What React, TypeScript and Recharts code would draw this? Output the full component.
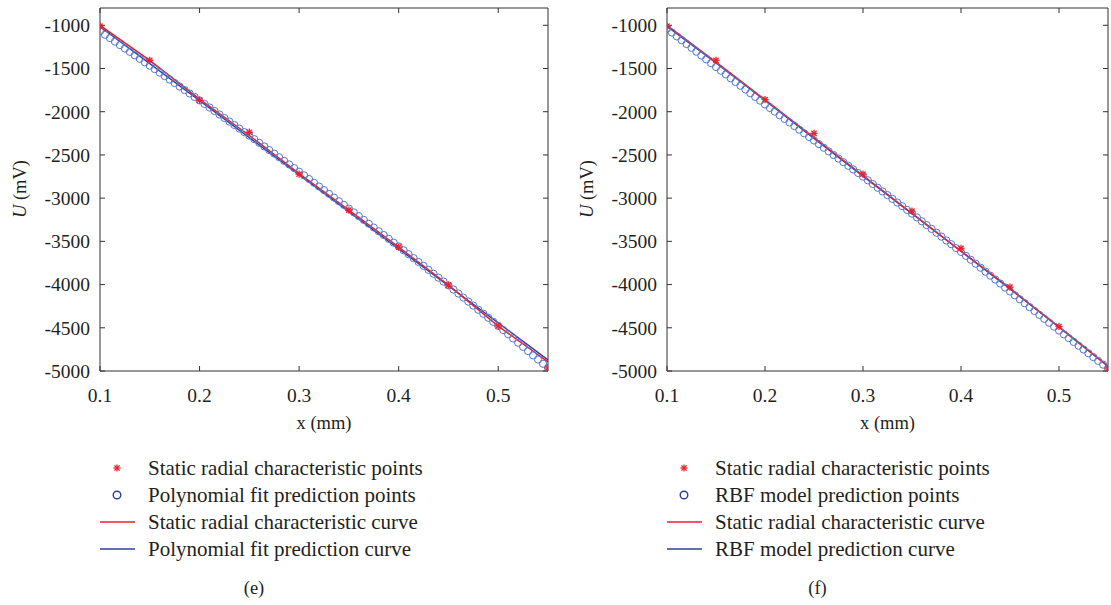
import { ComposedChart, Line, Scatter, XAxis, YAxis } from 'recharts';

const FONT = '"Liberation Serif", "DejaVu Serif", serif';
const INK = '#231f20';
const RED = '#e8202a';
const BLUE = '#2b3f9e';
const CIRCLE = '#5677d0';

// sampling grid of the prediction points (mm)
const predX = [
  0.1, 0.105, 0.11, 0.115, 0.12, 0.125, 0.13, 0.135, 0.14, 0.145,
  0.15, 0.155, 0.16, 0.165, 0.17, 0.175, 0.18, 0.185, 0.19, 0.195,
  0.2, 0.205, 0.21, 0.215, 0.22, 0.225, 0.23, 0.235, 0.24, 0.245,
  0.25, 0.255, 0.26, 0.265, 0.27, 0.275, 0.28, 0.285, 0.29, 0.295,
  0.3, 0.305, 0.31, 0.315, 0.32, 0.325, 0.33, 0.335, 0.34, 0.345,
  0.35, 0.355, 0.36, 0.365, 0.37, 0.375, 0.38, 0.385, 0.39, 0.395,
  0.4, 0.405, 0.41, 0.415, 0.42, 0.425, 0.43, 0.435, 0.44, 0.445,
  0.45, 0.455, 0.46, 0.465, 0.47, 0.475, 0.48, 0.485, 0.49, 0.495,
  0.5, 0.505, 0.51, 0.515, 0.52, 0.525, 0.53, 0.535, 0.54, 0.545,
  0.55,
];

// (e) polynomial fit prediction points (mV)
const polyPred = [
  -1070, -1110, -1149, -1189, -1229, -1269, -1308, -1348, -1388, -1428,
  -1467, -1507, -1548, -1588, -1628, -1668, -1709, -1749, -1789, -1829,
  -1869, -1910, -1951, -1992, -2032, -2073, -2114, -2154, -2195, -2236,
  -2277, -2318, -2360, -2402, -2444, -2485, -2527, -2569, -2610, -2652,
  -2694, -2737, -2779, -2822, -2865, -2907, -2950, -2993, -3036, -3078,
  -3121, -3165, -3208, -3252, -3296, -3340, -3383, -3427, -3471, -3515,
  -3558, -3603, -3649, -3694, -3739, -3784, -3830, -3875, -3920, -3965,
  -4010, -4057, -4104, -4151, -4197, -4244, -4291, -4337, -4384, -4431,
  -4478, -4526, -4575, -4624, -4673, -4721, -4770, -4819, -4867, -4916,
  -4965,
];

// (f) RBF model prediction points (mV)
const rbfPred = [
  -1040, -1084, -1129, -1173, -1217, -1261, -1306, -1350, -1394, -1439,
  -1483, -1526, -1569, -1613, -1656, -1699, -1742, -1786, -1829, -1872,
  -1916, -1957, -1999, -2041, -2083, -2124, -2166, -2208, -2250, -2292,
  -2333, -2375, -2417, -2459, -2501, -2542, -2584, -2626, -2668, -2709,
  -2751, -2794, -2837, -2880, -2922, -2965, -3008, -3051, -3093, -3136,
  -3179, -3223, -3268, -3312, -3356, -3400, -3445, -3489, -3533, -3578,
  -3622, -3668, -3713, -3759, -3805, -3851, -3897, -3942, -3988, -4034,
  -4080, -4125, -4170, -4215, -4261, -4306, -4351, -4397, -4442, -4487,
  -4532, -4576, -4620, -4664, -4708, -4751, -4795, -4839, -4883, -4926,
  -4970,
];

// measured static radial characteristic points
const staticX = [0.1, 0.15, 0.2, 0.25, 0.3, 0.35, 0.4, 0.45, 0.5, 0.55];
const staticE = [-1010, -1405, -1867, -2237, -2722, -3139, -3566, -4006, -4480, -4965];
const staticF = [-1010, -1405, -1860, -2250, -2722, -3150, -3580, -4030, -4485, -4975];

// static characteristic curves, sampled at staticX
const staticCurveE = [-1000, -1405, -1855, -2275, -2715, -3139, -3566, -4006, -4480, -4895];
const staticCurveF = [-1000, -1425, -1860, -2300, -2738, -3175, -3612, -4045, -4490, -4945];

// prediction curves
const polyCurveX = [0.1, 0.55];
const polyCurve = [-1015, -4872];
const rbfCurve = [-1012, -1435, -1870, -2310, -2745, -3180, -3615, -4050, -4492, -4945];

const xTicks = [0.1, 0.2, 0.3, 0.4, 0.5];
const yTicks = [-1000, -1500, -2000, -2500, -3000, -3500, -4000, -4500, -5000];

const zip = (xs: number[], ys: number[]) => xs.map((x, i) => ({ x, y: ys[i] }));

const Asterisk = (p: any) => {
  const { cx, cy } = p;
  const r = 3.6;
  const d = 2.6;
  return (
    <g stroke={RED} strokeWidth={1.3}>
      <line x1={cx - r} y1={cy} x2={cx + r} y2={cy} />
      <line x1={cx} y1={cy - r} x2={cx} y2={cy + r} />
      <line x1={cx - d} y1={cy - d} x2={cx + d} y2={cy + d} />
      <line x1={cx - d} y1={cy + d} x2={cx + d} y2={cy - d} />
    </g>
  );
};

const Ring = (p: any) => (
  <circle cx={p.cx} cy={p.cy} r={3.6} fill="none" stroke={CIRCLE} strokeWidth={1} />
);

const NoLabel = () => <g />;

type PanelProps = {
  left: number;
  width: number;
  yAxisWidth: number;
  rightMargin: number;
  pred: number[];
  points: number[];
  staticCurve: number[];
  fitX: number[];
  fitCurve: number[];
  labels: string[];
  caption: string;
};

const tickStyle = { fontFamily: FONT, fontSize: 19.5, fill: INK };
const titleStyle = { fontFamily: FONT, fontSize: 18.5, fill: INK };
const legendStyle = { fontFamily: FONT, fontSize: 21, fill: INK };

function Panel(props: PanelProps) {
  const { left, width, yAxisWidth, rightMargin, pred, points, staticCurve, fitX, fitCurve, labels, caption } = props;
  const plotLeft = yAxisWidth;
  const plotRight = width - rightMargin;
  const plotMid = (plotLeft + plotRight) / 2;

  return (
    <div style={{ position: 'absolute', left, top: 0, width, height: 605 }}>
      <ComposedChart
        width={width}
        height={605}
        margin={{ top: 7, right: rightMargin - 1, left: 0, bottom: 174 }}
      >
        <XAxis
          xAxisId="b"
          dataKey="x"
          type="number"
          domain={[0.1, 0.55]}
          ticks={xTicks}
          allowDataOverflow
          height={60}
          tickSize={-5}
          tickMargin={22}
          stroke="#333"
          tick={tickStyle}
          label={{
            content: () => (
              <text x={plotMid} y={429} textAnchor="middle" style={titleStyle}>
                x (mm)
              </text>
            ),
          }}
        />
        <XAxis
          xAxisId="t"
          orientation="top"
          dataKey="x"
          type="number"
          domain={[0.1, 0.55]}
          ticks={xTicks}
          allowDataOverflow
          height={1}
          tickSize={-5}
          tick={NoLabel}
          stroke="#333"
        />
        <YAxis
          yAxisId="l"
          type="number"
          domain={[-5000, -800]}
          ticks={yTicks}
          allowDataOverflow
          width={yAxisWidth}
          tickSize={-5}
          tickMargin={15}
          stroke="#333"
          tick={tickStyle}
          label={{
            content: () => (
              <text
                x={plotLeft - 78}
                y={189}
                textAnchor="middle"
                dominantBaseline="middle"
                transform={`rotate(-90 ${plotLeft - 78} 189)`}
                style={titleStyle}
              >
                <tspan fontStyle="italic">U</tspan> (mV)
              </text>
            ),
          }}
        />
        <YAxis
          yAxisId="r"
          orientation="right"
          type="number"
          domain={[-5000, -800]}
          ticks={yTicks}
          allowDataOverflow
          width={1}
          tickSize={-5}
          tick={NoLabel}
          stroke="#333"
        />
        <Scatter
          xAxisId="b"
          yAxisId="l"
          data={zip(predX, pred)}
          dataKey="y"
          shape={Ring}
          isAnimationActive={false}
        />
        <Line
          xAxisId="b"
          yAxisId="l"
          data={zip(fitX, fitCurve)}
          dataKey="y"
          type="linear"
          stroke={BLUE}
          strokeWidth={1.4}
          dot={false}
          isAnimationActive={false}
        />
        <Line
          xAxisId="b"
          yAxisId="l"
          data={zip(staticX, staticCurve)}
          dataKey="y"
          type="linear"
          stroke={RED}
          strokeWidth={1.5}
          dot={false}
          isAnimationActive={false}
        />
        <Scatter
          xAxisId="b"
          yAxisId="l"
          data={zip(staticX, points)}
          dataKey="y"
          shape={Asterisk}
          isAnimationActive={false}
        />
      </ComposedChart>

      <svg
        width={width}
        height={170}
        style={{ position: 'absolute', left: 0, top: 440 }}
      >
        {labels.map((label, i) => {
          const y = 28 + i * 27;
          const mx = plotLeft + 17;
          return (
            <g key={label}>
              {i === 0 && <Asterisk cx={mx} cy={y} />}
              {i === 1 && <circle cx={mx} cy={y} r={3.8} fill="none" stroke={BLUE} strokeWidth={1.4} />}
              {i === 2 && <line x1={plotLeft} x2={plotLeft + 35} y1={y} y2={y} stroke={RED} strokeWidth={1.5} />}
              {i === 3 && <line x1={plotLeft} x2={plotLeft + 35} y1={y} y2={y} stroke={BLUE} strokeWidth={1.5} />}
              <text x={plotLeft + 48} y={y + 7} style={legendStyle}>
                {label}
              </text>
            </g>
          );
        })}
        <text x={plotMid - 70} y={154} textAnchor="middle" style={titleStyle}>
          {caption}
        </text>
      </svg>
    </div>
  );
}

export default function App() {
  return (
    <div style={{ position: 'absolute', left: 0, top: 0, width: 1111, height: 605, background: '#fff' }}>
      <Panel
        left={0}
        width={560}
        yAxisWidth={100}
        rightMargin={12}
        pred={polyPred}
        points={staticE}
        staticCurve={staticCurveE}
        fitX={polyCurveX}
        fitCurve={polyCurve}
        labels={[
          'Static radial characteristic points',
          'Polynomial fit prediction points',
          'Static radial characteristic curve',
          'Polynomial fit prediction curve',
        ]}
        caption="(e)"
      />
      <Panel
        left={560}
        width={551}
        yAxisWidth={107}
        rightMargin={3}
        pred={rbfPred}
        points={staticF}
        staticCurve={staticCurveF}
        fitX={staticX}
        fitCurve={rbfCurve}
        labels={[
          'Static radial characteristic points',
          'RBF model prediction points',
          'Static radial characteristic curve',
          'RBF model prediction curve',
        ]}
        caption="(f)"
      />
    </div>
  );
}
